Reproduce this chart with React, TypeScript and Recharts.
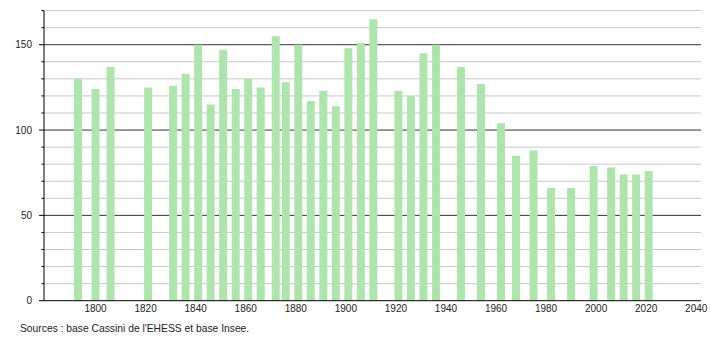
import React from "react";
import { BarChart, Bar, XAxis, YAxis, CartesianGrid } from "recharts";

const years = [1793, 1800, 1806, 1821, 1831, 1836, 1841, 1846, 1851, 1856, 1861, 1866, 1872, 1876, 1881, 1886, 1891, 1896, 1901, 1906, 1911, 1921, 1926, 1931, 1936, 1946, 1954, 1962, 1968, 1975, 1982, 1990, 1999, 2006, 2011, 2016, 2021];
const population = [130, 124, 137, 125, 126, 133, 150, 115, 147, 124, 130, 125, 155, 128, 150, 117, 123, 114, 148, 151, 165, 123, 120, 145, 150, 137, 127, 104, 85, 88, 66, 66, 79, 78, 74, 74, 76];
const xTicks = [1800, 1820, 1840, 1860, 1880, 1900, 1920, 1940, 1960, 1980, 2000, 2020, 2040];
const yTicks = [0, 10, 20, 30, 40, 50, 60, 70, 80, 90, 100, 110, 120, 130, 140, 150, 160, 170];
const yMajor = [50, 100, 150];
const sourceText = "Sources : base Cassini de l'EHESS et base Insee.";

const data = years.map((y, i) => ({ year: y, pop: population[i] }));

const FONT = "'Liberation Sans', Arial, sans-serif";

const YTick = (props: any) => {
  const { x, y, payload } = props;
  const v = payload.value;
  const major = v % 50 === 0;
  return (
    <g>
      <line x1={major ? x + 7 : x + 9.5} x2={x + 12} y1={y} y2={y} stroke="#000" strokeWidth={1} />
      {major ? (
        <text x={x} y={y} dy="0.355em" textAnchor="end" fontSize={10} fill="#222" fontFamily={FONT}>
          {v}
        </text>
      ) : null}
    </g>
  );
};

export default function App() {
  return (
    <div style={{ position: "absolute", left: 0, top: 0, width: 710, height: 340, background: "#fff" }}>
      <BarChart
        width={710}
        height={340}
        data={data}
        margin={{ top: 10.6, right: 9, left: 0, bottom: 19.3 }}
      >
        <CartesianGrid
          vertical={false}
          horizontalValues={yTicks.filter((t) => t % 50 !== 0)}
          stroke="#c8c8c8"
          strokeWidth={1}
        />
        <CartesianGrid
          vertical={false}
          horizontalValues={yMajor}
          stroke="#333"
          strokeWidth={1}
        />
        <XAxis
          dataKey="year"
          type="number"
          domain={[1779.4, 2041.9]}
          ticks={xTicks}
          allowDataOverflow
          height={20}
          tickLine={false}
          tickSize={0}
          tickMargin={4}
          axisLine={{ stroke: "#000" }}
          tick={{ fontSize: 10, fill: "#222", fontFamily: FONT }}
          interval={0}
        />
        <YAxis
          type="number"
          domain={[0, 170]}
          ticks={yTicks}
          width={44}
          tickLine={false}
          tickSize={5}
          tickMargin={7}
          axisLine={{ stroke: "#000" }}
          tick={<YTick />}
          interval={0}
        />
        <Bar dataKey="pop" fill="#ade5ad" barSize={8} isAnimationActive={false} />
      </BarChart>
      <div
        style={{
          position: "absolute",
          left: 20,
          top: 323,
          fontSize: 10.3,
          fontFamily: FONT,
          color: "#222",
          whiteSpace: "nowrap",
        }}
      >
        {sourceText}
      </div>
    </div>
  );
}
